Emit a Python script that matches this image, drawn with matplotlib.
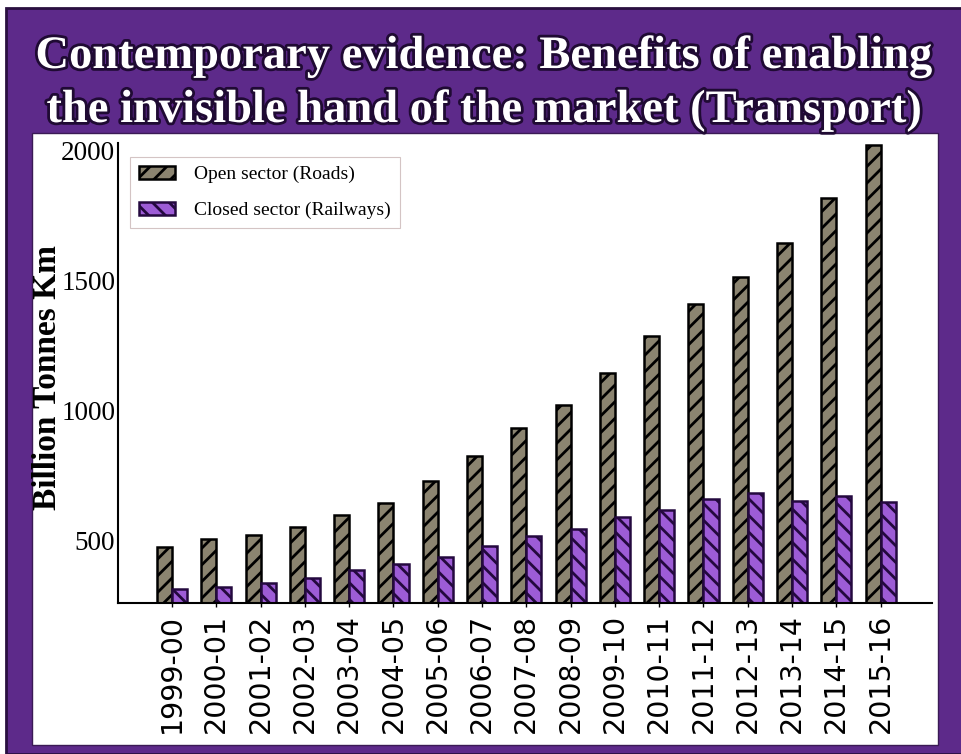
import matplotlib
matplotlib.use('Agg')
import matplotlib.pyplot as plt
import matplotlib.patheffects as pe
from matplotlib.patches import Rectangle
import numpy as np

years = ['1999-00', '2000-01', '2001-02', '2002-03', '2003-04', '2004-05',
         '2005-06', '2006-07', '2007-08', '2008-09', '2009-10', '2010-11',
         '2011-12', '2012-13', '2013-14', '2014-15', '2015-16']
roads = [474, 504, 519, 551, 597, 644, 729, 824, 931, 1021, 1141, 1284,
         1407, 1510, 1641, 1815, 2018]
railways = [313, 320, 335, 356, 384, 407, 436, 477, 515, 541, 590, 616,
            657, 680, 652, 668, 646]
y_ticks = [500, 1000, 1500, 2000]

purple = '#5d2a8a'
road_color = '#8b8470'
rail_color = '#9d5cd6'

plt.rcParams['hatch.linewidth'] = 2.0

W, H = 962, 754
fig = plt.figure(figsize=(W / 100, H / 100), dpi=100, facecolor='white')

# purple slide background and white chart panel
fig.patches.append(Rectangle((6 / W, 0), 1, 1 - 8 / H, transform=fig.transFigure,
                             facecolor=purple, edgecolor='#2a1040', lw=2,
                             zorder=0))
fig.patches.append(Rectangle((32 / W, 1 - 745 / H), 906 / W, 612 / H,
                             transform=fig.transFigure, facecolor='white',
                             edgecolor='#3a1a55', lw=1, zorder=1))

title_fx = [pe.Stroke(linewidth=4, foreground='#1f0a33'), pe.Normal()]
title_kw = dict(ha='center', va='baseline', color='white', fontsize=33.5,
                fontweight='bold', family='Liberation Serif',
                path_effects=title_fx)
fig.text(484 / W, 1 - 68 / H, 'Contemporary evidence: Benefits of enabling',
         **title_kw)
fig.text(484 / W, 1 - 122 / H, 'the invisible hand of the market (Transport)',
         **title_kw)

ax = fig.add_axes([118 / W, 1 - 603 / H, 814 / W, 460 / H])
ax.set_zorder(2)
ax.patch.set_alpha(0)

x = np.arange(len(years))
w = 0.34
ax.bar(x - w / 2, roads, w, color=road_color, edgecolor='black', lw=1.8,
       hatch='//', label='Open sector (Roads)')
ax.bar(x + w / 2, railways, w, color=rail_color, edgecolor='#24093f', lw=1.8,
       hatch='\\\\', label='Closed sector (Railways)')

ax.set_xlim(-1.22, 17.16)
ax.set_ylim(258, 2027)
ax.set_xticks(x)
ax.set_xticklabels(years, rotation=90, fontsize=20.5, family='DejaVu Sans')
ax.set_yticks(y_ticks)
ax.set_yticklabels([str(v) for v in y_ticks], fontsize=19.5,
                   family='Liberation Serif')
ax.tick_params(axis='x', length=3, width=1, pad=5)
ax.tick_params(axis='y', length=0, pad=2)
ax.spines[['top', 'right']].set_visible(False)
for s in ['left', 'bottom']:
    ax.spines[s].set_linewidth(1.5)

fig.text(48 / W, 1 - 378 / H, 'Billion Tonnes Km', rotation=90, ha='center',
         va='center', fontsize=24, fontweight='bold', family='Liberation Serif')

leg = ax.legend(loc='upper left', bbox_to_anchor=(0.015, 0.97),
                borderaxespad=0, prop={'family': 'Liberation Serif', 'size': 14},
                handlelength=1.85, handletextpad=1.0, labelspacing=0.95,
                borderpad=0.45, fancybox=False, framealpha=1)
leg.get_frame().set_edgecolor('#d4c4c4')
leg.get_frame().set_linewidth(0.8)

fig.savefig('out.png', dpi=100, facecolor=fig.get_facecolor())
